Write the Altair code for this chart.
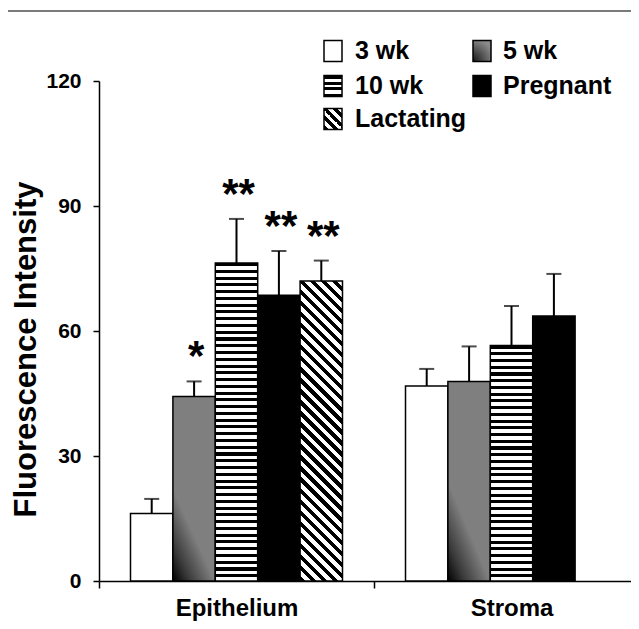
import altair as alt
import pandas as pd

# ---------------- data ----------------
groups = ["Epithelium", "Stroma"]
series = ["3 wk", "5 wk", "10 wk", "Pregnant", "Lactating"]
epi_mean = [16.2, 44.3, 76.3, 68.6, 72.0]
epi_err = [3.5, 3.6, 10.6, 10.6, 4.9]
stroma_series = ["3 wk", "5 wk", "10 wk", "Pregnant"]
stroma_mean = [46.8, 47.9, 56.5, 63.6]
stroma_err = [4.1, 8.4, 9.5, 10.1]
star_series = ["5 wk", "10 wk", "Pregnant", "Lactating"]
star_text = ["*", "**", "**", "**"]
y_ticks = [0, 30, 60, 90, 120]
y_title = "Fluorescence Intensity"

rows = []
for s, m, e in zip(series, epi_mean, epi_err):
    rows.append({"group": "Epithelium", "series": s, "mean": m, "hi": m + e})
for s, m, e in zip(stroma_series, stroma_mean, stroma_err):
    rows.append({"group": "Stroma", "series": s, "mean": m, "hi": m + e})
df = pd.DataFrame(rows)

stars = pd.DataFrame({"group": "Epithelium", "series": star_series, "label": star_text})
stars = stars.merge(df, on=["group", "series"])

# ---------------- layout ----------------
FONT = "Liberation Sans"
PLOT_W, PLOT_H = 532, 500
X_RANGE = 550
PAD_OUT = 0.743
PXU = PLOT_H / 120.0
BAR_W = (X_RANGE / 2) / (5 + 2 * PAD_OUT)


def hstripes(n, black=0.45):
    stops = []
    for i in range(n):
        a, b, c = i / n, (i + black) / n, (i + 1) / n
        stops += [{"offset": a, "color": "black"}, {"offset": b, "color": "black"},
                  {"offset": b, "color": "white"}, {"offset": c, "color": "white"}]
    return {"gradient": "linear", "x1": 0, "y1": 0, "x2": 0, "y2": 1, "stops": stops}


def bands(n):
    stops = []
    for i in range(n):
        col = "black" if i % 2 == 0 else "white"
        stops += [{"offset": i / n, "color": col}, {"offset": (i + 1) / n, "color": col}]
    return {"gradient": "linear", "x1": 0, "y1": 0, "x2": 0, "y2": 1, "stops": stops}


def dstripes(w, h, period=11.0):
    k = (h + w) / (w * w + h * h)
    n = max(1, round((h + w) / period))
    stops = []
    for i in range(n):
        a, b, c = i / n, (i + 0.5) / n, (i + 1) / n
        stops += [{"offset": a, "color": "white"}, {"offset": b, "color": "white"},
                  {"offset": b, "color": "black"}, {"offset": c, "color": "black"}]
    return {"gradient": "linear", "x1": 1, "y1": 0, "x2": 1 - w * k, "y2": h * k, "stops": stops}


grad5 = {"gradient": "linear", "x1": 0, "y1": 1, "x2": 0.2, "y2": 0.6,
         "stops": [{"offset": 0, "color": "#000000"}, {"offset": 0.4, "color": "#3a3a3a"},
                   {"offset": 1, "color": "#7f7f7f"}]}
grad5_leg = {"gradient": "radial", "x1": 0, "y1": 1, "r1": 0, "x2": 0, "y2": 1, "r2": 1.1,
             "stops": [{"offset": 0, "color": "#111111"}, {"offset": 1, "color": "#8a8a8a"}]}

# ---------------- encodings ----------------
x_enc = alt.X("group:N", sort=groups, title=None,
              scale=alt.Scale(domain=groups, range=[0, X_RANGE], paddingInner=0, paddingOuter=0),
              axis=alt.Axis(tickBand="extent", labelAngle=0, labelFont=FONT, labelFontSize=24,
                            labelFontWeight="bold", labelColor="black", labelPadding=8,
                            tickSize=7, tickWidth=1.5, tickColor="black", domainColor="black",
                            domainWidth=1.5))
xo_enc = alt.XOffset("series:N", sort=series,
                     scale=alt.Scale(domain=series, paddingInner=0, paddingOuter=PAD_OUT))
y_axis = alt.Axis(values=y_ticks, grid=False, labelFont=FONT, labelFontSize=21,
                  labelFontWeight="bold", labelColor="black", labelPadding=12, tickSize=6,
                  tickWidth=1.5, tickColor="black", domainColor="black", domainWidth=1.5,
                  titleFont=FONT, titleFontSize=31, titleFontWeight="bold", titleColor="black",
                  titleX=-64, titleY=268, titleAngle=-90, titleAlign="center",
                  titleBaseline="alphabetic")
y_scale = alt.Scale(domain=[0, 120], nice=False)


def y_of(field):
    return alt.Y(f"{field}:Q", scale=y_scale, axis=y_axis, title=y_title)


base = alt.Chart(df).encode(x=x_enc, xOffset=xo_enc)

layers = []
for s in series:
    for g in groups:
        sub = df[(df.series == s) & (df.group == g)]
        if sub.empty:
            continue
        h = float(sub["mean"].iloc[0]) * PXU
        if s == "3 wk":
            fill = "white"
        elif s == "5 wk":
            fill = grad5
        elif s == "10 wk":
            fill = hstripes(max(1, round(h / 6.7)))
        elif s == "Pregnant":
            fill = "black"
        else:
            fill = dstripes(BAR_W, h)
        layers.append(
            alt.Chart(sub).mark_bar(fill=fill, stroke="black", strokeWidth=1.5)
            .encode(x=x_enc, xOffset=xo_enc, y=y_of("mean"))
        )

err_rule = base.mark_rule(color="black", strokeWidth=2).encode(
    y=y_of("mean"), y2=alt.Y2("hi:Q"))
err_cap = base.mark_tick(color="black", thickness=2, size=15, orient="horizontal").encode(
    y=y_of("hi"))
star_layer = alt.Chart(stars).mark_text(
    font=FONT, fontSize=42, fontWeight="bold", color="black", baseline="alphabetic",
    align="center", dy=-11, dx=2
).encode(x=x_enc, xOffset=xo_enc, y=y_of("hi"), text="label:N")

one = pd.DataFrame({"k": [0]})

# legend (layout constants relative to plot origin)
leg_items = [("3 wk", 0, 0, "white"), ("5 wk", 1, 0, grad5_leg),
             ("10 wk", 0, 1, bands(7)), ("Pregnant", 1, 1, "black"),
             ("Lactating", 0, 2, dstripes(18, 21))]
rect_x = [225, 374]
text_x = [256, 404]
rect_top = [-40.5, -5.5, 27.5]
text_base = [-22.5, 12.5, 46]
leg_layers = []
for label, c, r, fill in leg_items:
    leg_layers.append(
        alt.Chart(one).mark_rect(fill=fill, stroke="black", strokeWidth=1.5).encode(
            x=alt.value(rect_x[c]), x2=alt.value(rect_x[c] + 18),
            y=alt.value(rect_top[r]), y2=alt.value(rect_top[r] + 21)))
    leg_layers.append(
        alt.Chart(one).mark_text(font=FONT, fontSize=25, fontWeight="bold", color="black",
                                 align="left", baseline="alphabetic").encode(
            x=alt.value(text_x[c]), y=alt.value(text_base[r]), text=alt.value(label)))

top_line = alt.Chart(one).mark_rule(color="#7a7a7a", strokeWidth=2).encode(
    x=alt.value(-91), x2=alt.value(PLOT_W), y=alt.value(-70))

chart = alt.layer(*layers, err_rule, err_cap, star_layer, *leg_layers, top_line).properties(
    width=PLOT_W, height=PLOT_H,
    autosize=alt.AutoSizeParams(type="none"),
    padding={"left": 91, "top": 73, "right": 0, "bottom": 40},
).configure_view(stroke=None)

chart.save("out.html", embed_options={"renderer": "svg", "actions": False})
